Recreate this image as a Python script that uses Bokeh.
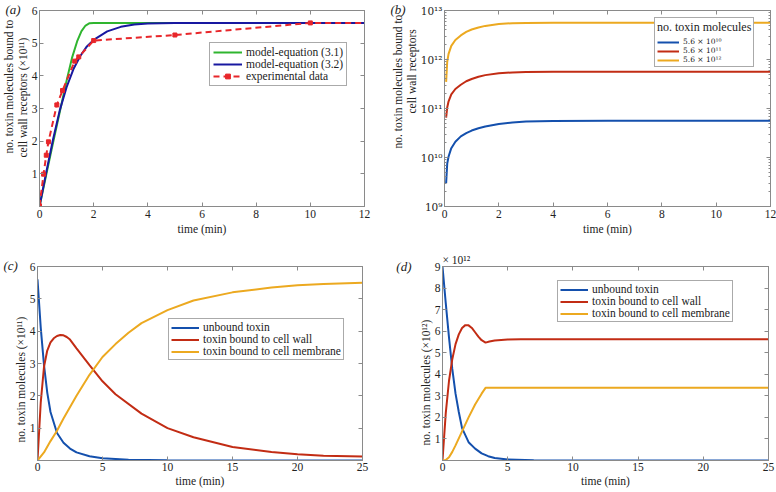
import numpy as np
from bokeh.plotting import figure
from bokeh.models import (Range1d, LinearAxis, LogAxis, FixedTicker, Title,
                          Legend, LegendItem)
from bokeh.layouts import row, column
from bokeh.embed import file_html
from bokeh.resources import INLINE

# ---------------- data ----------------
# panel (a)  (values x 1e11)
a_t_eq31 = [0, 0.25, 0.5, 0.75, 1.0, 1.2, 1.4, 1.55, 1.7, 1.85, 2.0, 12]
a_y_eq31 = [0, 0.98, 1.95, 2.9, 3.85, 4.55, 5.08, 5.37, 5.54, 5.61, 5.62, 5.62]
a_t_eq32 = [0, 0.25, 0.5, 0.75, 1.0, 1.25, 1.5, 1.75, 2.0, 2.5, 3.0, 3.5, 4.0, 5.0, 6.0, 12]
a_y_eq32 = [0, 1.05, 2.05, 2.95, 3.65, 4.2, 4.6, 4.9, 5.1, 5.36, 5.5, 5.57, 5.6, 5.62, 5.62, 5.62]
a_t_exp = [0, 0.15, 0.25, 0.33, 0.64, 0.85, 1.3, 1.45, 2.0, 5.0, 10.0, 12.0]
a_y_exp = [0.02, 0.99, 1.57, 1.98, 3.11, 3.55, 4.45, 4.58, 5.08, 5.25, 5.62, 5.62]
a_legend = ["model-equation (3.1)", "model-equation (3.2)", "experimental data"]
a_xticks = [0, 2, 4, 6, 8, 10, 12]
a_yticks = [0, 1, 2, 3, 4, 5, 6]
a_ytick_labels = ["", "1", "2", "3", "4", "5", "6"]

# panel (b)
b_t = [0.06, 0.1, 0.15, 0.25, 0.4, 0.6, 0.8, 1.0, 1.25, 1.5, 2, 2.5, 3, 4, 6, 12]
b_low = [0.30e10, 0.75e10, 1.05e10, 1.55e10, 2.1e10, 2.7e10, 3.15e10, 3.55e10, 3.95e10,
         4.3e10, 4.85e10, 5.2e10, 5.4e10, 5.55e10, 5.6e10, 5.6e10]
b_mid = [0.65e11, 1.05e11, 1.4e11, 1.95e11, 2.5e11, 3.05e11, 3.6e11, 4.0e11, 4.45e11,
         4.8e11, 5.25e11, 5.45e11, 5.55e11, 5.6e11, 5.6e11, 5.6e11]
b_high = [0.35e12, 0.9e12, 1.3e12, 1.9e12, 2.5e12, 3.1e12, 3.65e12, 4.1e12, 4.5e12,
          4.85e12, 5.3e12, 5.5e12, 5.57e12, 5.6e12, 5.6e12, 5.6e12]
b_labels = ["5.6 × 10¹⁰", "5.6 × 10¹¹", "5.6 × 10¹²"]
b_xticks = [0, 2, 4, 6, 8, 10, 12]
b_yticks = [1e9, 1e10, 1e11, 1e12, 1e13]
b_ytick_labels = ["10⁹", "10¹⁰", "10¹¹", "10¹²", "10¹³"]
b_yminor = [m * 10.0 ** e for e in range(9, 13) for m in range(2, 10)]

# panel (c)  (values x 1e11)
c_t_unb = [0, 0.25, 0.5, 0.75, 1.0, 1.5, 2.0, 2.5, 3.0, 4.0, 5.0, 7.0, 10.0, 25.0]
c_y_unb = [5.6, 4.1, 2.95, 2.1, 1.5, 0.85, 0.55, 0.37, 0.25, 0.13, 0.07, 0.02, 0.005, 0.0]
c_t_wall = [0, 0.25, 0.5, 0.75, 1.0, 1.25, 1.5, 1.75, 2.0, 2.25, 2.5, 3.0, 4.0, 5.0, 6.0,
            8.0, 10.0, 12.0, 15.0, 18.0, 20.0, 22.0, 25.0]
c_y_wall = [0, 1.8, 2.9, 3.4, 3.65, 3.78, 3.85, 3.88, 3.87, 3.82, 3.74, 3.47, 2.95, 2.45,
            2.05, 1.45, 1.0, 0.72, 0.42, 0.26, 0.19, 0.15, 0.12]
c_t_mem = [0, 0.5, 1.0, 1.5, 2.0, 3.0, 4.0, 5.0, 6.0, 7.0, 8.0, 10.0, 12.0, 15.0, 18.0,
           20.0, 22.0, 25.0]
c_y_mem = [0, 0.25, 0.6, 0.92, 1.3, 2.0, 2.65, 3.2, 3.6, 3.95, 4.25, 4.65, 4.95, 5.2,
           5.35, 5.42, 5.46, 5.5]
c_xticks = [0, 5, 10, 15, 20, 25]
c_yticks = [0, 1, 2, 3, 4, 5, 6]
c_ytick_labels = ["", "1", "2", "3", "4", "5", "6"]

# panel (d)  (values x 1e12)
d_t_unb = [0, 0.25, 0.5, 0.75, 1.0, 1.25, 1.5, 2.0, 2.5, 3.0, 3.5, 4.0, 5.0, 7.0, 25.0]
d_y_unb = [9.0, 7.3, 5.7, 4.25, 3.1, 2.25, 1.5, 0.85, 0.55, 0.33, 0.2, 0.12, 0.05, 0.01, 0.0]
d_t_wall = [0, 0.25, 0.5, 0.75, 1.0, 1.25, 1.5, 1.75, 2.0, 2.25, 2.5, 2.75, 3.0, 3.3, 3.6,
            4.0, 5.0, 6.0, 25.0]
d_y_wall = [0, 2.2, 3.7, 4.7, 5.4, 5.85, 6.15, 6.28, 6.27, 6.15, 5.95, 5.75, 5.58, 5.47,
            5.52, 5.57, 5.61, 5.63, 5.63]
d_t_mem = [0, 0.25, 0.5, 0.75, 1.0, 1.5, 2.0, 2.5, 3.0, 3.3, 25.0]
d_y_mem = [0, 0.02, 0.15, 0.4, 0.7, 1.35, 2.0, 2.6, 3.1, 3.37, 3.37]
d_xticks = [0, 5, 10, 15, 20, 25]
d_yticks = [0, 1, 2, 3, 4, 5, 6, 7, 8, 9]
d_ytick_labels = ["", "1", "2", "3", "4", "5", "6", "7", "8", "9"]

legend_cd = ["unbound toxin", "toxin bound to cell wall", "toxin bound to cell membrane"]

# ---------------- style ----------------
FONT = "Liberation Serif"
SUPFONT = "DejaVu Serif"
FS = "11.5px"
GREY = "#8a8a8a"
TXT = "#222222"
GREEN = "#2fb52f"
NAVY = "#1818a0"
RED_EXP = "#e8262a"
BLUE = "#1450ad"
RED = "#c22c14"
ORANGE = "#eca920"


def style_axis(ax, show=True):
    ax.axis_line_color = GREY
    ax.major_tick_line_color = GREY
    ax.major_tick_in = 4
    ax.major_tick_out = 0
    ax.minor_tick_line_color = None
    ax.major_label_text_font = FONT
    ax.major_label_text_color = TXT
    ax.axis_label_text_font = FONT
    ax.axis_label_text_font_style = "normal"
    ax.axis_label_text_font_size = FS
    ax.axis_label_text_color = TXT
    if show:
        ax.major_label_text_font_size = FS
        ax.major_label_standoff = 3
        ax.axis_label_standoff = 2
    else:
        ax.major_label_text_font_size = "1px"
        ax.major_label_text_alpha = 0.0
        ax.major_label_standoff = 0


def make_fig(fw, fh, bl, br, bt, bb, xr, yr, xticker, yticker, log=False):
    p = figure(frame_width=fw, frame_height=fh, min_border_left=bl, min_border_right=br,
               min_border_top=bt, min_border_bottom=bb, x_range=xr, y_range=yr,
               y_axis_type="log" if log else "linear", title=None,
               x_axis_location=None, y_axis_location=None,
               output_backend="svg", toolbar_location=None)
    p.xgrid.visible = False
    p.ygrid.visible = False
    p.outline_line_color = GREY
    p.background_fill_color = "white"
    p.border_fill_color = "white"
    bottom = LinearAxis(ticker=xticker, axis_label="time (min)")
    style_axis(bottom)
    p.add_layout(bottom, "below")
    left = LogAxis(ticker=yticker) if log else LinearAxis(ticker=yticker)
    style_axis(left)
    left.major_label_standoff = 2
    p.add_layout(left, "left")
    top = LinearAxis(ticker=xticker)
    style_axis(top, show=False)
    p.add_layout(top, "above")
    right = LogAxis(ticker=yticker) if log else LinearAxis(ticker=yticker)
    style_axis(right, show=False)
    p.add_layout(right, "right")
    return p, bottom, left, right


def add_title(p, text, side="left", align="left", offset=0, standoff=0,
              size=FS, style="normal"):
    p.add_layout(Title(text=text, align=align, offset=offset, standoff=standoff,
                       text_font=FONT, text_font_size=size, text_font_style=style,
                       text_color=TXT), side)


def style_legend(lg, size=FS, lh=12, gw=29, pad=3, font=FONT):
    lg.label_text_font = font
    lg.label_text_font_size = size
    lg.label_text_color = TXT
    lg.label_height = lh
    lg.glyph_height = lh
    lg.glyph_width = gw
    lg.label_standoff = 4
    lg.spacing = 0
    lg.padding = pad
    lg.margin = 0
    lg.border_line_color = "#555555"
    lg.border_line_width = 1
    lg.background_fill_color = "white"
    lg.background_fill_alpha = 1.0


# ---------------- panel (a) ----------------
pa, xa, ya, _ = make_fig(325, 196, 37, 23, 10, 39, Range1d(0, 12), Range1d(0, 6),
                         FixedTicker(ticks=a_xticks), FixedTicker(ticks=a_yticks))
ya.major_label_overrides = dict(zip(a_yticks, a_ytick_labels))
ra1 = pa.line(a_t_eq31, a_y_eq31, line_color=GREEN, line_width=2)
ra2 = pa.line(a_t_eq32, a_y_eq32, line_color=NAVY, line_width=2)
ra3 = pa.line(a_t_exp, a_y_exp, line_color=RED_EXP, line_width=2, line_dash="6 4")
ra4 = pa.scatter(a_t_exp[:-1], a_y_exp[:-1], marker="square", size=4,
                 line_color=RED_EXP, fill_color=RED_EXP)
lga = Legend(items=[LegendItem(label=a_legend[0], renderers=[ra1]),
                    LegendItem(label=a_legend[1], renderers=[ra2]),
                    LegendItem(label=a_legend[2], renderers=[ra3, ra4])],
             location=(170, 120))
style_legend(lga)
pa.add_layout(lga)
add_title(pa, "cell wall receptors (×10¹¹)", offset=49)
add_title(pa, "no. toxin molecules bound to", offset=53)
add_title(pa, "(a)", side="above", offset=-34, standoff=-12, size="13px", style="italic")

# ---------------- panel (b) ----------------
yt_b = FixedTicker(ticks=b_yticks, minor_ticks=b_yminor)
pb, xb, yb, right_b = make_fig(326, 196, 57, 8, 10, 39, Range1d(0, 12), Range1d(1e9, 1e13),
                               FixedTicker(ticks=b_xticks), yt_b, log=True)
yb.major_label_overrides = dict(zip(b_yticks, b_ytick_labels))
yb.major_label_text_font = SUPFONT
yb.major_label_text_font_size = "10.5px"
for ax in (yb, right_b):
    ax.minor_tick_line_color = GREY
    ax.minor_tick_in = 2
    ax.minor_tick_out = 0
rb1 = pb.line(b_t, b_low, line_color=BLUE, line_width=2)
rb2 = pb.line(b_t, b_mid, line_color=RED, line_width=2)
rb3 = pb.line(b_t, b_high, line_color=ORANGE, line_width=2)
lgb = Legend(items=[LegendItem(label=b_labels[0], renderers=[rb1]),
                    LegendItem(label=b_labels[1], renderers=[rb2]),
                    LegendItem(label=b_labels[2], renderers=[rb3])],
             location=(210, 139), title="no. toxin molecules")
style_legend(lgb, size="7.5px", lh=8, gw=22, pad=2, font=SUPFONT)
lgb.title_text_font = FONT
lgb.title_text_font_size = "12px"
lgb.title_text_font_style = "normal"
lgb.title_text_color = TXT
lgb.title_standoff = 2
pb.add_layout(lgb)
add_title(pb, "cell wall receptors", offset=93)
add_title(pb, "no. toxin molecules bound to", offset=58)
add_title(pb, "(b)", side="above", offset=-54, standoff=-12, size="13px", style="italic")

# ---------------- panel (c) ----------------
pc, xc, yc, _ = make_fig(325, 194, 37, 23, 21, 32, Range1d(0, 25), Range1d(0, 6),
                         FixedTicker(ticks=c_xticks), FixedTicker(ticks=c_yticks))
yc.major_label_overrides = dict(zip(c_yticks, c_ytick_labels))
xc.major_label_standoff = 2
xc.axis_label_standoff = 1
rc1 = pc.line(c_t_unb, c_y_unb, line_color=BLUE, line_width=2)
rc2 = pc.line(c_t_wall, c_y_wall, line_color=RED, line_width=2)
rc3 = pc.line(c_t_mem, c_y_mem, line_color=ORANGE, line_width=2)
lgc = Legend(items=[LegendItem(label=legend_cd[0], renderers=[rc1]),
                    LegendItem(label=legend_cd[1], renderers=[rc2]),
                    LegendItem(label=legend_cd[2], renderers=[rc3])],
             location=(131, 100))
style_legend(lgc, lh=11, gw=28, pad=2)
pc.add_layout(lgc)
add_title(pc, "no. toxin molecules (×10¹¹)", offset=18)
add_title(pc, "(c)", side="above", offset=-34, standoff=-12, size="13px", style="italic")

# ---------------- panel (d) ----------------
pd_, xd, yd, _ = make_fig(326, 194, 57, 8, 21, 32, Range1d(0, 25), Range1d(0, 9),
                          FixedTicker(ticks=d_xticks), FixedTicker(ticks=d_yticks))
yd.major_label_overrides = dict(zip(d_yticks, d_ytick_labels))
xd.major_label_standoff = 2
xd.axis_label_standoff = 1
rd1 = pd_.line(d_t_unb, d_y_unb, line_color=BLUE, line_width=2)
rd2 = pd_.line(d_t_wall, d_y_wall, line_color=RED, line_width=2)
rd3 = pd_.line(d_t_mem, d_y_mem, line_color=ORANGE, line_width=2)
lgd = Legend(items=[LegendItem(label=legend_cd[0], renderers=[rd1]),
                    LegendItem(label=legend_cd[1], renderers=[rd2]),
                    LegendItem(label=legend_cd[2], renderers=[rd3])],
             location=(115, 138))
style_legend(lgd, lh=11, gw=28, pad=2)
pd_.add_layout(lgd)
add_title(pd_, "no. toxin molecules (×10¹²)", offset=15)
add_title(pd_, "× 10¹²", side="above", offset=0, standoff=2)
# panel letter (d) as an outer left axis label at the top of the frame
d_letter_ticks = [9]
d_letter = ["(d)"]
letter_ax = LinearAxis(ticker=FixedTicker(ticks=d_letter_ticks),
                       major_label_overrides=dict(zip(d_letter_ticks, d_letter)),
                       axis_line_color=None, major_tick_line_color=None,
                       minor_tick_line_color=None, major_label_standoff=0,
                       major_label_text_font=FONT, major_label_text_font_size="13px",
                       major_label_text_font_style="italic", major_label_text_color=TXT)
pd_.add_layout(letter_ax, "left")

layout = column(row(pa, pb), row(pc, pd_))
open("out.html", "w").write(file_html(layout, INLINE))
